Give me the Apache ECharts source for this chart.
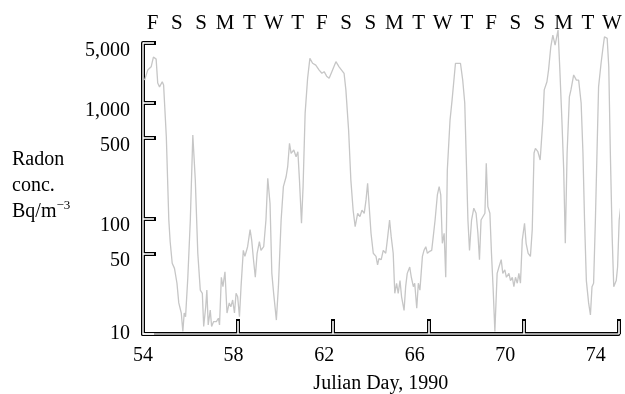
<!DOCTYPE html>
<html>
<head>
<meta charset="utf-8">
<script src="https://cdn.jsdelivr.net/npm/echarts@6/dist/echarts.min.js"></script>
<style>
  html, body { margin: 0; padding: 0; background: #fff; }
  #chart { width: 625px; height: 394px; }
</style>
</head>
<body>
<div id="chart"></div>
<script>
// Julian day (1990) and radon concentration in Bq/m^3
const days = [
  54.07, 54.21, 54.36, 54.46, 54.58, 54.65, 54.73, 54.85, 54.91, 55.03,
  55.14, 55.20, 55.29, 55.39, 55.50, 55.58, 55.69, 55.76, 55.82, 55.88,
  55.98, 56.09, 56.20, 56.31, 56.42, 56.53, 56.62, 56.68, 56.77, 56.82,
  56.88, 56.97, 57.03, 57.12, 57.24, 57.33, 57.38, 57.46, 57.53, 57.62,
  57.71, 57.81, 57.88, 57.96, 58.04, 58.11, 58.18, 58.26, 58.33, 58.43,
  58.50, 58.62, 58.73, 58.80, 58.88, 58.96, 59.04, 59.14, 59.21, 59.33,
  59.43, 59.51, 59.61, 59.69, 59.77, 59.89, 59.98, 60.10, 60.20, 60.32,
  60.39, 60.47, 60.54, 60.66, 60.76, 60.84, 60.91, 61.00, 61.07, 61.16,
  61.27, 61.37, 61.49, 61.63, 61.78, 61.90, 62.00, 62.11, 62.22, 62.34,
  62.52, 62.66, 62.88, 62.96, 63.08, 63.18, 63.28, 63.37, 63.48, 63.58,
  63.67, 63.77, 63.85, 63.92, 63.99, 64.07, 64.17, 64.29, 64.36, 64.42,
  64.52, 64.61, 64.72, 64.79, 64.89, 64.96, 65.05, 65.12, 65.20, 65.27,
  65.35, 65.42, 65.53, 65.60, 65.67, 65.78, 65.85, 65.94, 66.00, 66.09,
  66.16, 66.23, 66.34, 66.41, 66.49, 66.56, 66.66, 66.75, 66.82, 66.90,
  67.00, 67.08, 67.15, 67.22, 67.30, 67.37, 67.44, 67.56, 67.65, 67.80,
  67.87, 68.02, 68.12, 68.21, 68.27, 68.35, 68.42, 68.51, 68.61, 68.71,
  68.79, 68.86, 68.93, 69.01, 69.10, 69.16, 69.23, 69.32, 69.39, 69.46,
  69.54, 69.64, 69.72, 69.82, 69.89, 69.98, 70.05, 70.16, 70.23, 70.31,
  70.38, 70.45, 70.53, 70.60, 70.67, 70.75, 70.85, 70.92, 71.01, 71.11,
  71.19, 71.27, 71.33, 71.44, 71.54, 71.66, 71.72, 71.84, 71.91, 72.01,
  72.10, 72.20, 72.33, 72.41, 72.50, 72.58, 72.65, 72.73, 72.83, 72.90,
  73.02, 73.14, 73.24, 73.35, 73.43, 73.50, 73.58, 73.68, 73.76, 73.83,
  73.90, 73.98, 74.05, 74.12, 74.23, 74.32, 74.38, 74.50, 74.57, 74.64,
  74.72, 74.79, 74.90, 74.96, 75.03, 75.09
];
const radon = [
  1580, 1930, 2060, 2500, 2400, 1490, 1380, 1530, 1430, 510,
  97, 63, 41, 37, 27.5, 18.6, 15.2, 10.5, 15.2, 14.1,
  31, 97, 528, 215, 50, 24, 22.5, 11.6, 17.2, 24,
  12, 16.1, 11.6, 12.8, 12.8, 13.7, 12, 31, 25.7, 34.6,
  15.2, 18.6, 17.2, 19.7, 15.2, 22.5, 21, 14.1, 25.7, 53,
  47, 57, 80, 65, 44, 31, 50, 63, 53, 57,
  97, 223, 135, 33.5, 22.5, 13.2, 25.7, 97, 189, 230,
  281, 448, 367, 392, 343, 379, 215, 91, 189, 814,
  1640, 2440, 2210, 2130, 1930, 1810, 1870, 1710, 1640, 1870,
  2280, 2060, 1810, 1300, 584, 215, 118, 85, 111, 104,
  118, 111, 145, 202, 127, 74.5, 50, 47, 39.6, 45,
  44, 53, 50, 65, 97, 70, 50, 22.5, 27.5, 22.5,
  29, 21, 16, 25.7, 33.5, 38, 31, 25.7, 27.5, 16.7,
  27.5, 24, 47, 53, 57, 50, 52, 53, 70, 97,
  160, 189, 160, 61, 74.5, 31, 263, 712, 1060, 2210,
  2280, 2210, 1580, 1000, 369, 97, 53, 97, 123, 111,
  74.5, 44, 97, 97, 111, 301, 127, 111, 50, 25.7,
  10.5, 33.5, 38, 44, 33.5, 36, 31, 33.5, 29, 31,
  25.7, 31, 27.5, 33.5, 27.5, 65, 91, 61, 50, 47,
  80, 369, 405, 379, 321, 712, 1300, 1530, 1930, 3070,
  3880, 3180, 4290, 1930, 712, 263, 61, 369, 1130, 1300,
  1750, 1580, 1580, 1000, 369, 97, 29, 18.6, 14.6, 25.7,
  27.5, 97, 369, 1380, 2210, 3070, 3750, 3630, 2060, 369,
  70, 25.7, 29, 38, 97, 123
];

const dayLetters = ['F','S','S','M','T','W','T','F','S','S','M','T','W','T','F','S','S','M','T','W'];
const xLabelDays = [54, 58, 62, 66, 70, 74];
const xTickDays = [58.2, 62.4, 66.6, 70.8, 75];
const yTickLabels = ['10', '50', '100', '500', '1,000', '5,000'];

const font = '"Liberation Serif", "DejaVu Serif", serif';
const yMin = 1, yMax = 3.52; // log10 scale
const yTickLogs = [1, Math.log10(50), 2, Math.log10(500), 3, yMax];

const chart = echarts.init(document.getElementById('chart'));

const yLabel = {
  show: true,
  inside: false,
  margin: 13,
  customValues: yTickLogs,
  formatter: function (v) {
    let i = yTickLogs.findIndex(t => Math.abs(t - v) < 1e-6);
    if (i < 0) return '';
    return i === 0 ? '{b|' + yTickLabels[i] + '}' : '{s|' + yTickLabels[i] + '}';
  },
  rich: {
    b: {fontFamily: font, fontSize: 20, color: '#000'},
    s: {fontFamily: font, fontSize: 20, color: '#000', padding: [15, 0, 0, 0]}
  }
};

const option = {
  animation: false,
  backgroundColor: '#fff',
  grid: {left: 143, right: 6.5, top: 43, bottom: 60, outerBoundsMode: 'none'},
  xAxis: [
    {
      type: 'value', min: 54, max: 75, position: 'bottom',
      splitLine: {show: false},
      axisLine: {show: true, onZero: false, lineStyle: {color: '#000', width: 4}},
      axisTick: {show: true, inside: true, length: 15, customValues: xTickDays,
        lineStyle: {color: '#000', width: 4}},
      axisLabel: {customValues: xLabelDays, margin: 12, fontFamily: font, fontSize: 20, color: '#000'},
      name: 'Julian Day, 1990', nameLocation: 'middle', nameGap: 40,
      nameTextStyle: {fontFamily: font, fontSize: 20, color: '#000'}
    },
    {
      type: 'value', min: 54, max: 75, position: 'bottom', z: 1,
      splitLine: {show: false},
      axisLine: {show: true, onZero: false, lineStyle: {color: '#d8d8d8', width: 1.6}},
      axisTick: {show: true, inside: true, length: 13, customValues: xTickDays,
        lineStyle: {color: '#fff', width: 1.6}},
      axisLabel: {show: false}
    },
    {
      type: 'value', min: -0.4, max: 19.27, position: 'top',
      splitLine: {show: false}, axisLine: {show: false}, axisTick: {show: false},
      axisLabel: {
        customValues: dayLetters.map((d, i) => i),
        formatter: v => dayLetters[Math.round(v)] || '',
        margin: 9, fontFamily: font, fontSize: 21, color: '#000'
      }
    }
  ],
  yAxis: [
    {
      type: 'value', min: yMin, max: yMax, position: 'left',
      splitLine: {show: false},
      axisLine: {show: true, onZero: false, lineStyle: {color: '#000', width: 4}},
      axisTick: {show: true, inside: true, length: 13, customValues: yTickLogs,
        lineStyle: {color: '#000', width: 4}},
      axisLabel: yLabel
    },
    {
      type: 'value', min: yMin, max: yMax, position: 'left', z: 1,
      splitLine: {show: false},
      axisLine: {show: true, onZero: false, lineStyle: {color: '#e8e8e8', width: 1.6}},
      axisTick: {show: true, inside: true, length: 11, customValues: yTickLogs,
        lineStyle: {color: '#fff', width: 1.6}},
      axisLabel: {show: false}
    }
  ],
  graphic: [
    {
      type: 'text', left: 12, top: 150,
      style: {
        text: '{a|Radon}\n{a|conc.}\n{a|Bq/m}{s|\u22123}',
        rich: {
          a: {fontFamily: font, fontSize: 20, color: '#000', lineHeight: 26},
          s: {fontFamily: font, fontSize: 13, color: '#000', lineHeight: 26, padding: [0, 0, 12, 0]}
        }
      }
    }
  ],
  series: [
    {
      type: 'line',
      xAxisIndex: 0, yAxisIndex: 0,
      data: days.map((d, i) => [d, Math.log10(radon[i])]),
      showSymbol: false,
      clip: false,
      lineStyle: {color: '#c6c6c6', width: 1.3},
      z: 5
    }
  ]
};

chart.setOption(option);
</script>
</body>
</html>
